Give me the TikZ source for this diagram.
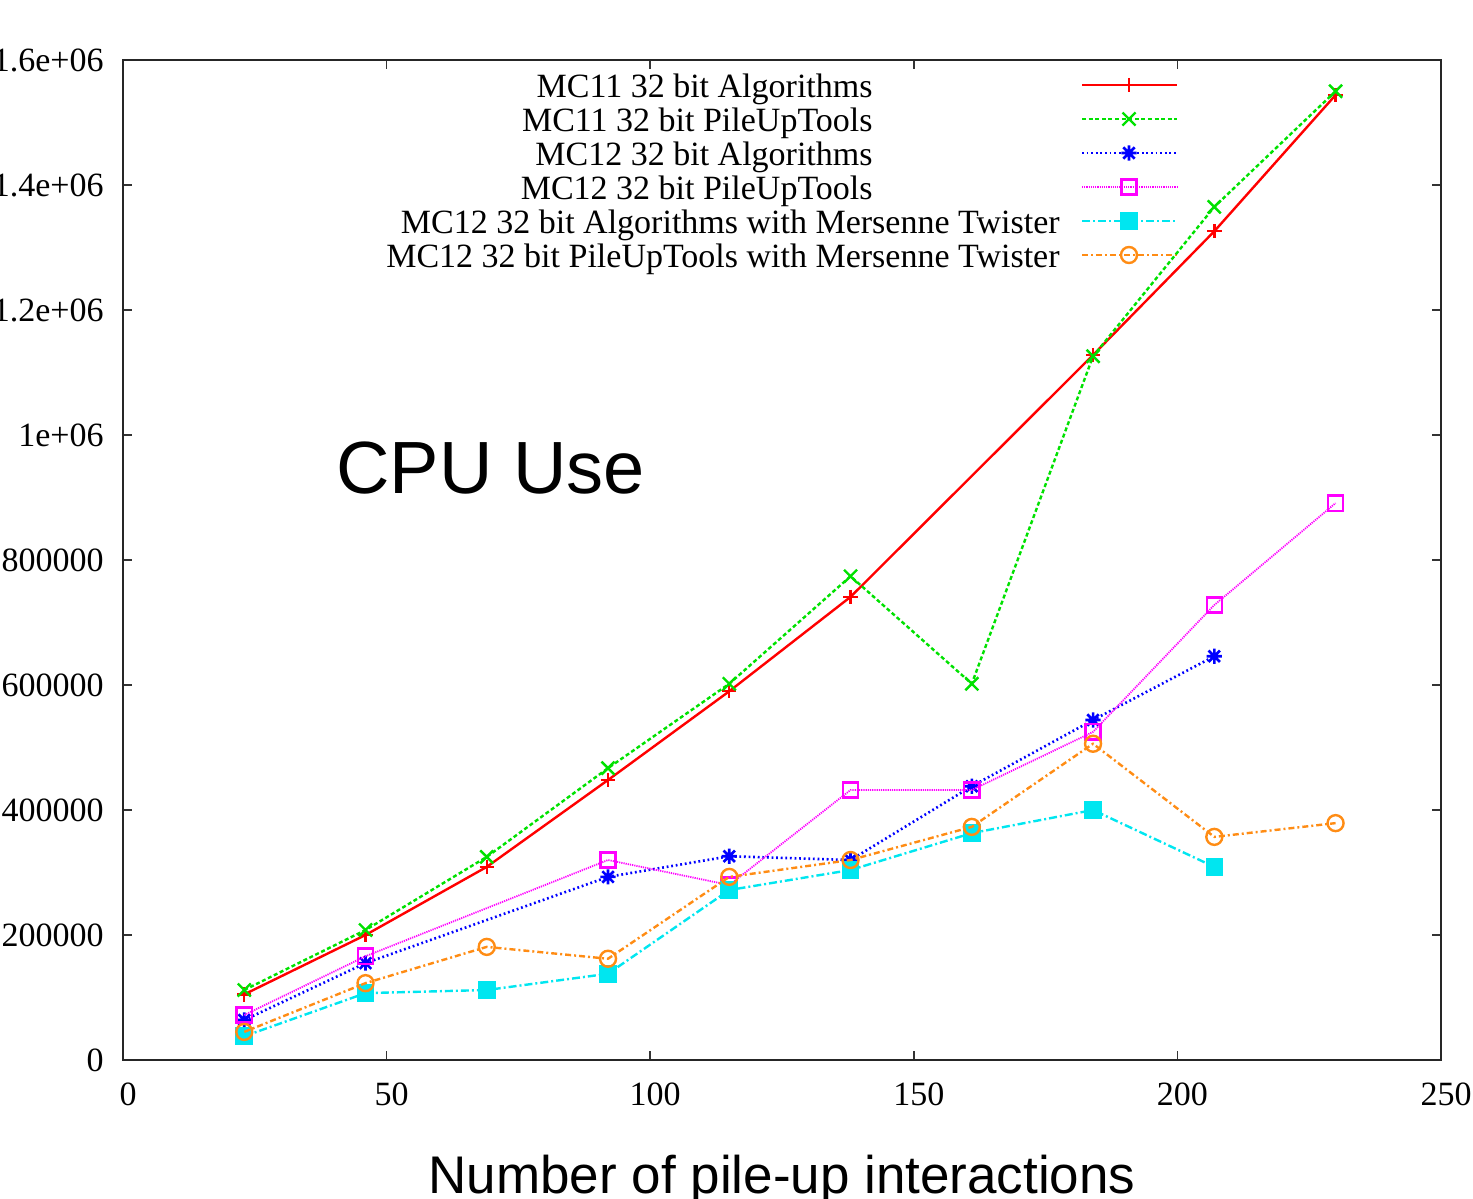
\documentclass[tikz,border=0pt]{standalone}
\usepackage{fontspec}
\setmainfont{Liberation Serif}
\newfontfamily\arialfont{Liberation Sans}
\usetikzlibrary{plotmarks}
\definecolor{gpred}{RGB}{255,0,0}
\definecolor{gpgreen}{RGB}{0,225,0}
\definecolor{gpblue}{RGB}{0,0,255}
\definecolor{gpmag}{RGB}{255,0,255}
\definecolor{gpcyan}{RGB}{0,230,240}
\definecolor{gporange}{RGB}{255,140,20}
\pgfdeclareplotmark{gpstar}{%
  \pgfpathmoveto{\pgfqpoint{-\pgfplotmarksize}{0pt}}%
  \pgfpathlineto{\pgfqpoint{\pgfplotmarksize}{0pt}}%
  \pgfpathmoveto{\pgfqpoint{0pt}{-\pgfplotmarksize}}%
  \pgfpathlineto{\pgfqpoint{0pt}{\pgfplotmarksize}}%
  \pgfpathmoveto{\pgfqpoint{-0.75\pgfplotmarksize}{-0.75\pgfplotmarksize}}%
  \pgfpathlineto{\pgfqpoint{0.75\pgfplotmarksize}{0.75\pgfplotmarksize}}%
  \pgfpathmoveto{\pgfqpoint{-0.75\pgfplotmarksize}{0.75\pgfplotmarksize}}%
  \pgfpathlineto{\pgfqpoint{0.75\pgfplotmarksize}{-0.75\pgfplotmarksize}}%
  \pgfusepathqstroke}
\tikzset{
  tick/.style={line width=0.8pt, black!80},
  ticklabel/.style={font=\fontsize{17}{20}\selectfont, inner sep=0pt},
  legtext/.style={font=\fontsize{17}{20}\selectfont, inner sep=0pt, anchor=base east},
  sred/.style={gpred, line width=1.2pt, mark=+, mark size=3.6pt, mark options={solid}},
  sgreen/.style={gpgreen, line width=1.2pt, dash pattern=on 2pt off 1.3pt, mark=x, mark size=4.6pt, mark options={solid}},
  sblue/.style={gpblue, line width=1.3pt, dash pattern=on 0.9pt off 1.4pt, mark=gpstar, mark size=3.8pt, mark options={solid}},
  smag/.style={gpmag, line width=0.9pt, dash pattern=on 0.6pt off 0.5pt, mark=square, mark size=3.8pt, mark options={solid, line width=1.2pt}},
  scyan/.style={gpcyan, line width=1.2pt, dash pattern=on 4pt off 1.5pt on 1pt off 1.5pt, mark=square*, mark size=3.8pt, mark options={solid}},
  sorange/.style={gporange, line width=1.2pt, dash pattern=on 3pt off 1.5pt on 1pt off 1.5pt, mark=o, mark size=4pt, mark options={solid}},
}
\begin{document}
\begin{tikzpicture}[x=0.5pt,y=0.5pt]
\useasboundingbox (0,-1199) rectangle (1473,0);
% ticks
\foreach \i in {0,...,8}{
  \draw[tick] (123,{-1060+125*\i}) -- ++(9,0);
  \draw[tick] (1441,{-1060+125*\i}) -- ++(-9,0);
}
\foreach \i in {0,...,5}{
  \draw[tick] ({123+263.6*\i},-1060) -- ++(0,9);
  \draw[tick] ({123+263.6*\i},-60) -- ++(0,-9);
}
\draw[line width=1pt, black!85] (123,-60) rectangle (1441,-1060);
% y labels
\foreach \v [count=\k from 0] in {0,200000,400000,600000,800000,1e+06,1.2e+06,1.4e+06,1.6e+06}{
  \node[ticklabel, anchor=east] (yl\k) at (104,{-1060+125*\k}) {\v};
}
% x labels
\foreach \v [count=\k from 0] in {0,50,100,150,200,250}{
  \node[ticklabel, anchor=north] (xl\k) at ({128+263.6*\k},-1082) {\v};
}
% legend
\node[legtext] (lt1) at (873,-97) {MC11 32 bit Algorithms};
\node[legtext] (lt2) at (873,-131) {MC11 32 bit PileUpTools};
\node[legtext] (lt3) at (873,-165) {MC12 32 bit Algorithms};
\node[legtext] (lt4) at (873,-199) {MC12 32 bit PileUpTools};
\node[legtext] (lt5) at (1060,-233) {MC12 32 bit Algorithms with Mersenne Twister};
\node[legtext] (lt6) at (1060,-267) {MC12 32 bit PileUpTools with Mersenne Twister};
\draw[sred, mark=none] (1082,-85) -- (1177,-85);
\draw[sred] plot coordinates {(1129,-85)};
\draw[sgreen, mark=none] (1082,-119) -- (1177,-119);
\draw[sgreen] plot coordinates {(1129,-119)};
\draw[sblue, mark=none] (1082,-153) -- (1177,-153);
\draw[sblue] plot coordinates {(1129,-153)};
\draw[smag, mark=none] (1082,-187) -- (1177,-187);
\draw[smag] plot coordinates {(1129,-187)};
\draw[scyan, mark=none] (1082,-221) -- (1177,-221);
\draw[scyan] plot coordinates {(1129,-221)};
\draw[sorange, mark=none] (1082,-255) -- (1177,-255);
\draw[sorange] plot coordinates {(1129,-255)};
% data
\begin{scope}[shift={(123,-1060)}, x=2.636pt, y=31.25pt]
\draw[sred] plot coordinates {(23,1.05)(46,2.00)(69,3.09)(92,4.48)(115,5.90)(138,7.41)(184,11.28)(207,13.26)(230,15.44)};
\draw[sgreen] plot coordinates {(23,1.12)(46,2.08)(69,3.25)(92,4.67)(115,6.02)(138,7.74)(161,6.02)(184,11.26)(207,13.65)(230,15.50)};
\draw[sblue] plot coordinates {(23,0.64)(46,1.55)(92,2.93)(115,3.26)(138,3.20)(161,4.38)(184,5.44)(207,6.46)};
\draw[smag] plot coordinates {(23,0.72)(46,1.66)(92,3.20)(115,2.80)(138,4.32)(161,4.32)(184,5.25)(207,7.28)(230,8.91)};
\draw[scyan] plot coordinates {(23,0.38)(46,1.07)(69,1.12)(92,1.38)(115,2.72)(138,3.04)(161,3.63)(184,4.00)(207,3.09)};
\draw[sorange] plot coordinates {(23,0.45)(46,1.23)(69,1.81)(92,1.62)(115,2.93)(138,3.20)(161,3.73)(184,5.06)(207,3.57)(230,3.79)};
\end{scope}
% titles
\node[font=\arialfont\fontsize{37}{40}\selectfont, inner sep=0pt, anchor=base west] (cpu) at (336,-493) {CPU Use};
\node[font=\arialfont\fontsize{26.5}{30}\selectfont, inner sep=0pt, anchor=base] (xlab) at (782,-1193) {Number of pile-up interactions};
\end{tikzpicture}
\end{document}
